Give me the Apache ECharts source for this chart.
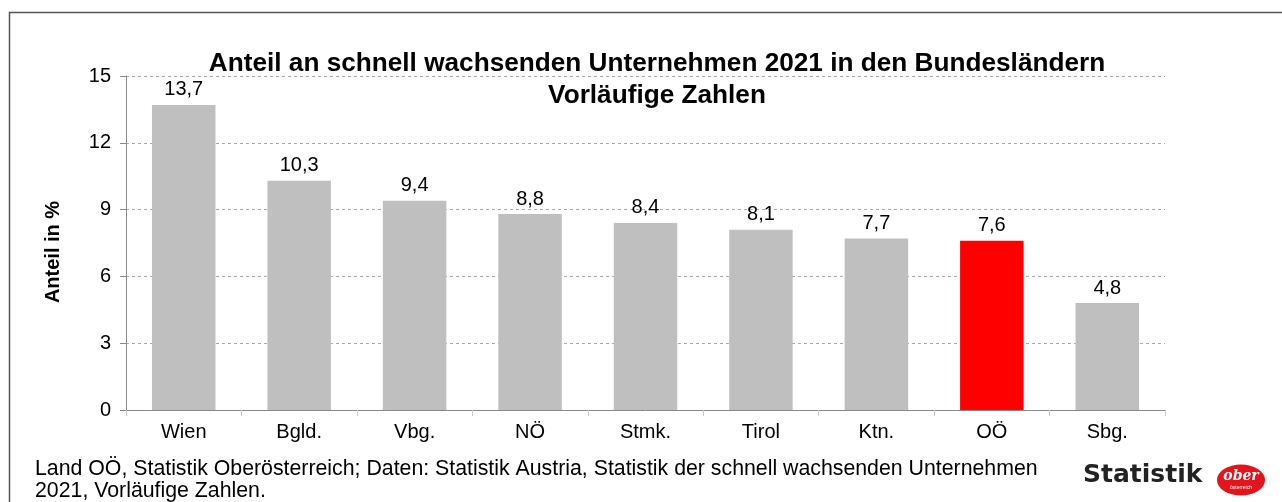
<!DOCTYPE html>
<html>
<head>
<meta charset="utf-8">
<script src="https://cdn.jsdelivr.net/npm/echarts@6/dist/echarts.min.js"></script>
<style>
html,body{margin:0;padding:0;background:#fff;}
#chart{width:1282px;height:502px;}
</style>
</head>
<body>
<div id="chart"></div>
<script>
var laender = ['Wien','Bgld.','Vbg.','NÖ','Stmk.','Tirol','Ktn.','OÖ','Sbg.'];
var anteil = [13.7, 10.3, 9.4, 8.8, 8.4, 8.1, 7.7, 7.6, 4.8];
var yTicks = [0, 3, 6, 9, 12, 15];
var hervorheben = 'OÖ';

var myChart = echarts.init(document.getElementById('chart'));
var font = 'Liberation Sans, Arial, sans-serif';

var option = {
    backgroundColor: '#fff',
    animation: false,
    title: {
        text: 'Anteil an schnell wachsenden Unternehmen 2021 in den Bundesländern\nVorläufige Zahlen',
        left: 652,
        textAlign: 'center',
        top: 43,
        textStyle: {
            fontFamily: font,
            fontWeight: 'bold',
            fontSize: 26.2,
            lineHeight: 32,
            color: '#000'
        }
    },
    grid: {
        left: 126,
        right: 117,
        top: 76,
        bottom: 92
    },
    xAxis: {
        type: 'category',
        data: laender,
        axisLine: { lineStyle: { color: '#888', width: 1 } },
        axisTick: { show: true, length: 6, lineStyle: { color: '#ccc' } },
        axisLabel: { color: '#000', fontSize: 20, fontFamily: font, margin: 12 }
    },
    yAxis: {
        type: 'value',
        min: yTicks[0],
        max: yTicks[yTicks.length - 1],
        interval: 3,
        axisLine: { show: true, lineStyle: { color: '#888' } },
        axisTick: { show: true, length: 6, lineStyle: { color: '#888' } },
        axisLabel: { color: '#000', fontSize: 20, fontFamily: font, margin: 15 },
        splitLine: { lineStyle: { color: '#aaa', type: [3, 3] } }
    },
    series: [{
        type: 'bar',
        barWidth: '55%',
        data: anteil.map(function (v, i) {
            return {
                value: v,
                itemStyle: { color: laender[i] == hervorheben ? '#ff0000' : '#bfbfbf' }
            };
        }),
        label: {
            show: true,
            position: 'top',
            distance: 5,
            color: '#000',
            fontSize: 20,
            fontFamily: font,
            formatter: function (p) {
                return String(p.value).replace('.', ',');
            }
        }
    }],
    graphic: [
        {
            type: 'polyline',
            shape: { points: [[9.5, 510], [9.5, 12.5], [1290, 12.5]] },
            style: { stroke: '#555', lineWidth: 1.5, fill: null }
        },
        // Achsentitel
        {
            type: 'text',
            x: 53,
            y: 252,
            rotation: Math.PI / 2,
            style: {
                text: 'Anteil in %',
                font: 'bold 20px ' + font,
                fill: '#000',
                align: 'center',
                verticalAlign: 'middle'
            }
        },
        {
            type: 'text',
            left: 35,
            top: 458,
            style: {
                text: 'Land OÖ, Statistik Oberösterreich; Daten: Statistik Austria, Statistik der schnell wachsenden Unternehmen\n2021, Vorläufige Zahlen.',
                font: '21.3px ' + font,
                lineHeight: 22,
                fill: '#000'
            }
        },
        // Logo
        {
            type: 'text',
            left: 1083,
            top: 463,
            style: {
                text: 'Statistik',
                font: 'bold 25px DejaVu Sans, sans-serif',
                fill: '#222'
            }
        },
        {
            type: 'circle',
            x: 1241,
            y: 480,
            scaleX: 1.55,
            shape: { cx: 0, cy: 0, r: 15.5 },
            style: { fill: '#e3141b' }
        },
        {
            type: 'text',
            x: 1241,
            y: 476,
            style: {
                text: 'ober',
                font: 'italic bold 14px DejaVu Serif, serif',
                fill: '#fff',
                align: 'center',
                verticalAlign: 'middle'
            }
        },
        {
            type: 'text',
            x: 1241,
            y: 488,
            style: {
                text: 'österreich',
                font: '5px sans-serif',
                fill: '#fff',
                align: 'center',
                verticalAlign: 'middle'
            }
        }
    ]
};

myChart.setOption(option);
</script>
</body>
</html>
